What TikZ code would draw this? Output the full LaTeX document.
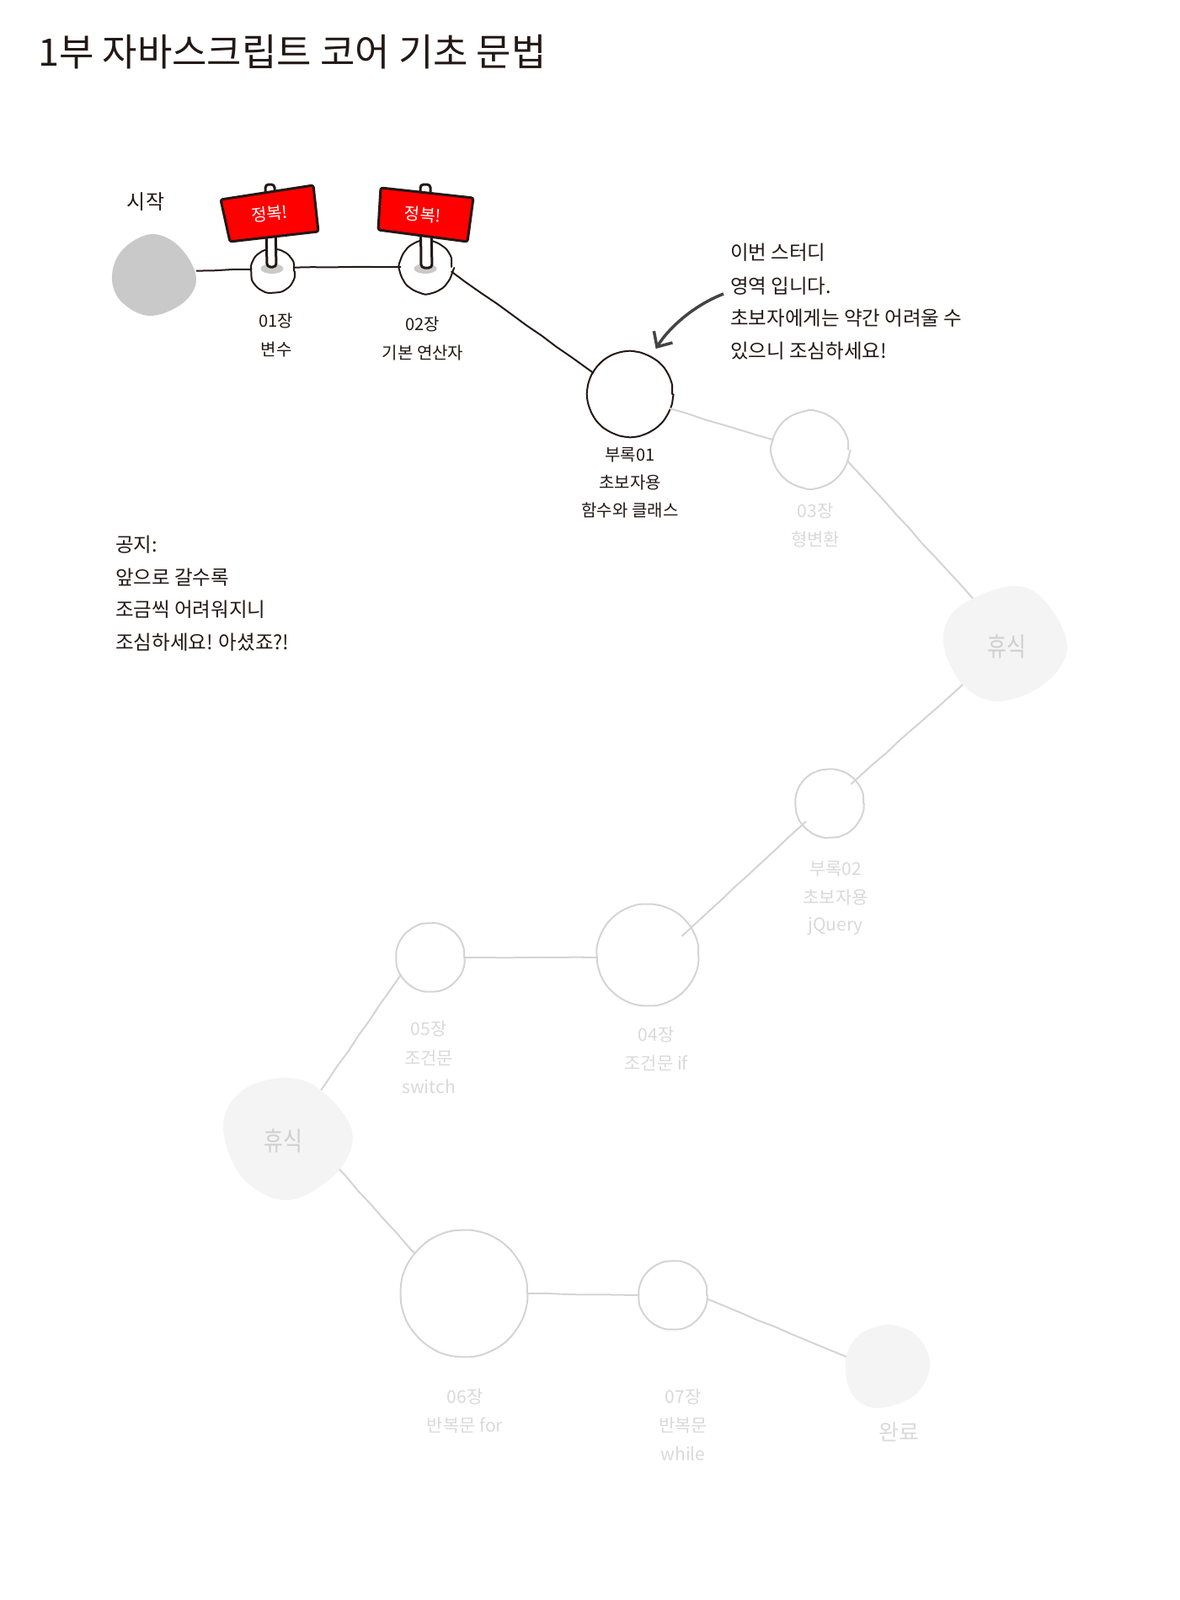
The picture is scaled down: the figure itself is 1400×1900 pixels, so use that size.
\documentclass[tikz,border=0pt]{standalone}
\usepackage{fontspec}
\setmainfont{Noto Sans CJK KR}
\usetikzlibrary{arrows.meta,decorations.pathmorphing}
\definecolor{ink}{HTML}{231815}
\definecolor{fade}{HTML}{D4D4D4}
\definecolor{fadetext}{HTML}{D9D9D9}
\definecolor{resttext}{HTML}{CFCFCF}
\definecolor{blobdark}{HTML}{C9C9C9}
\definecolor{bloblight}{HTML}{F4F4F4}
\definecolor{arrowgray}{HTML}{444444}
\newcommand{\fs}[1]{\fontsize{#1pt}{#1pt}\selectfont}
\tikzset{
  wob/.style={decorate,decoration={random steps,segment length=11pt,amplitude=.3pt},rounded corners=3pt,line cap=round,line join=round},
  wobline/.style={decorate,decoration={random steps,segment length=22pt,amplitude=.5pt}},
  spot/.style={circle,draw,inner sep=0pt,outer sep=0pt,line width=2pt,wob},
  doneC/.style={spot,draw=ink},
  todoC/.style={spot,draw=fade},
  anchorblob/.style={circle,inner sep=0pt,outer sep=0pt},
  doneL/.style={draw=ink,line width=2pt,wobline},
  todoL/.style={draw=fade,line width=2pt,wobline},
  lab/.style={inner sep=0pt,text=ink,font=\fs{20},align=center},
  flab/.style={inner sep=0pt,text=fadetext,font=\fs{21},align=center},
  restlab/.style={inner sep=0pt,text=resttext,font=\fs{31},xscale=.8},
  note/.style={inner sep=0pt,anchor=west,text=ink,font=\fs{23.5}},
  signbody/.style={fill=red,draw=ink,line width=3pt,rounded corners=2.5pt,line join=round},
  pole/.style={fill=white,draw=ink,line width=3pt,rounded corners=4pt},
  signtxt/.style={inner sep=0pt,text=white,font=\fs{20}},
  shadowmark/.style={fill=blobdark,draw=none},
  blobshape/.style={smooth cycle,tension=.62}
}
\begin{document}
\begin{tikzpicture}[x=1pt,y=-1pt]
\useasboundingbox (0,0) rectangle (1400,1900);
% stations
\node[doneC,minimum size=50pt] (c01) at (324,322) {};
\node[doneC,minimum size=60pt] (c02) at (506,317) {};
\node[doneC,minimum size=100pt] (ap1) at (748,468) {};
\node[todoC,minimum size=90pt] (c03) at (962,534) {};
\node[todoC,minimum size=80pt] (ap2) at (985,954) {};
\node[todoC,minimum size=120pt] (c04) at (769,1134) {};
\node[todoC,minimum size=80pt] (c05) at (511,1137) {};
\node[todoC,minimum size=150pt] (c06) at (551,1536) {};
\node[todoC,minimum size=80pt] (c07) at (799,1538) {};
\node[anchorblob,minimum size=100pt] (startb) at (183,326) {};
\node[anchorblob,minimum size=120pt] (rest1) at (1195,766) {};
\node[anchorblob,minimum size=120pt] (rest2) at (342,1356) {};
\node[anchorblob,minimum size=96pt] (endb) at (1054,1622) {};
% connectors
\draw[doneL] (startb.5) -- (c01.175);
\draw[doneL] (c01.10) -- (c02.180);
\draw[doneL] (c02.-10) -- (ap1.150);
\draw[todoL] (ap1.-20) -- (c03.165);
\draw[todoL] (c03.-16) -- (rest1.125);
\draw[todoL,shorten >=-6pt] (rest1.222) -- (ap2.42);
\draw[todoL,shorten <=-5pt,shorten >=-14pt] (ap2.218) -- (c04.32);
\draw[todoL] (c04.183) -- (c05.0);
\draw[todoL] (c05.210) -- (rest2.58);
\draw[todoL] (rest2.-25) -- (c06.141);
\draw[todoL] (c06.0) -- (c07.180);
\draw[todoL] (c07.-6) -- (endb.168);
% blobs
\fill[blobdark] plot[blobshape] coordinates {(133,327)(146,296)(180,278)(213,293)(233,330)(217,360)(177,375)(143,357)};
\fill[bloblight] plot[blobshape] coordinates {(1120,763)(1137,722)(1200,696)(1240,713)(1267,768)(1240,812)(1185,833)(1143,813)};
\fill[bloblight] plot[blobshape] coordinates {(265,1340)(285,1297)(335,1280)(379,1293)(418,1343)(400,1392)(343,1425)(289,1400)};
\fill[bloblight] plot[blobshape] coordinates {(1004,1617)(1019,1586)(1057,1573)(1090,1588)(1104,1621)(1087,1656)(1042,1672)(1012,1656)};
% flags
\fill[shadowmark] (323,319) ellipse[x radius=13.5,y radius=6];
\fill[shadowmark] (505,319) ellipse[x radius=13.5,y radius=6];
\draw[pole] (315,219) -- (326,219) -- (328,317) -- (317,317) -- cycle;
\draw[pole] (499,219) -- (511,219) -- (513,318) -- (500,318) -- cycle;
\draw[signbody] (262,237) -- (372,220) -- (378,275) -- (273,287) -- cycle;
\draw[signbody] (452,223) -- (562,235) -- (555,287) -- (449,273) -- cycle;
\node[signtxt,rotate=6] (flag1) at (320,254) {정복!};
\node[signtxt,rotate=-4] (flag2) at (502,255) {정복!};
% labels
\node[inner sep=0pt,anchor=west,text=ink,font=\fs{45}] (title) at (45,62) {1부 자바스크립트 코어 기초 문법};
\node[lab,font=\fs{24}] (lstart) at (173,240) {시작};
\node[lab] (l01a) at (328,381) {01장};
\node[lab] (l01b) at (328,415) {변수};
\node[lab] (l02a) at (502,385) {02장};
\node[lab] (l02b) at (502,419) {기본 연산자};
\node[lab] (la1a) at (748,540) {부록01};
\node[lab] (la1b) at (748,573) {초보자용};
\node[lab] (la1c) at (748,606) {함수와 클래스};
\node[flab] (l03a) at (968,607) {03장};
\node[flab] (l03b) at (968,641) {형변환};
\node[restlab] (lr1) at (1195,768) {휴식};
\node[flab] (la2a) at (992,1032) {부록02};
\node[flab] (la2b) at (992,1066) {초보자용};
\node[flab] (la2c) at (992,1100) {jQuery};
\node[flab] (l04a) at (779,1229) {04장};
\node[flab] (l04b) at (779,1262) {조건문 if};
\node[flab] (l05a) at (509,1222) {05장};
\node[flab] (l05b) at (509,1256) {조건문};
\node[flab] (l05c) at (509,1290) {switch};
\node[restlab] (lr2) at (336,1355) {휴식};
\node[flab] (l06a) at (552,1659) {06장};
\node[flab] (l06b) at (552,1693) {반복문 for};
\node[flab] (l07a) at (811,1659) {07장};
\node[flab] (l07b) at (811,1693) {반복문};
\node[flab] (l07c) at (811,1726) {while};
\node[flab,font=\fs{26}] (lend) at (1067,1700) {완료};
% notes
\node[note] (n1) at (867,300) {이번 스터디};
\node[note] (n2) at (867,340) {영역 입니다.};
\node[note] (n3) at (867,378) {초보자에게는 약간 어려울 수};
\node[note] (n4) at (867,417) {있으니 조심하세요!};
\node[note] (m1) at (137,647) {공지:};
\node[note] (m2) at (137,686) {앞으로 갈수록};
\node[note] (m3) at (137,724) {조금씩 어려워지니};
\node[note] (m4) at (137,763) {조심하세요! 아셨죠?!};
% arrow
\coordinate (arrowtail) at (859,349);
\draw[draw=arrowgray,line width=3.5pt,shorten >=12pt,-{Straight Barb[length=14pt,width=26pt,line width=3.5pt]}] (arrowtail) .. controls (825,362) and (795,388) .. (ap1.61);
\end{tikzpicture}
\end{document}
